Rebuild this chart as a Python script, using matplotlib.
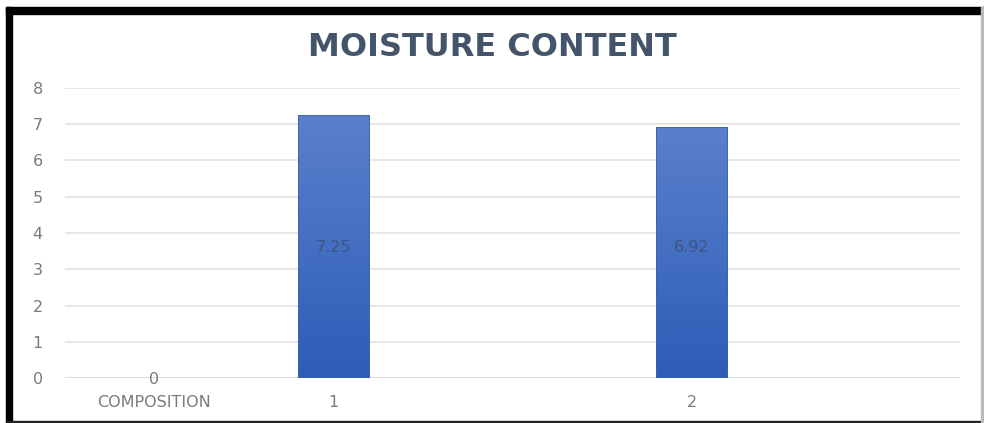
import numpy as np
import matplotlib.pyplot as plt
from matplotlib.patches import Rectangle
from matplotlib.colors import LinearSegmentedColormap

categories = ['COMPOSITION', '1', '', '2', '']
values = [0, 7.25, np.nan, 6.92, np.nan]
value_labels = ['0', '7.25', '', '6.92', '']
yticks = [0, 1, 2, 3, 4, 5, 6, 7, 8]
title = 'MOISTURE CONTENT'

W, H = 984, 423
fig = plt.figure(figsize=(W/100, H/100), dpi=100)
fig.patch.set_facecolor('white')
font = 'DejaVu Sans'

# plot area in pixel coords: x 65..960, y 88..378
ax = fig.add_axes([65/W, 1-378/H, (960-65)/W, (378-88)/H])
for s in ax.spines.values():
    s.set_visible(False)
ax.set_yticks(yticks)
ax.yaxis.grid(True, color='#e3e3e3', lw=1.2)
ax.set_axisbelow(True)
ax.tick_params(length=0, labelsize=11.5, colors='#7a7a7a')
ax.tick_params(axis='x', pad=12)
ax.tick_params(axis='y', pad=16)
ax.set_xticks(range(len(categories)))
ax.set_xticklabels(categories, family=font)
for lab in ax.get_yticklabels():
    lab.set_family(font)
ax.axhline(0, color='#dcdcdc', lw=1.2)

# gradient bars
grad = np.linspace(0, 1, 256).reshape(-1, 1)
cmap = LinearSegmentedColormap.from_list('bl', ['#2d5db7', '#5a80cc'])
bw = 0.4
for i, v in enumerate(values):
    if np.isnan(v) or v == 0:
        continue
    im = ax.imshow(grad, cmap=cmap, aspect='auto', origin='lower',
                   extent=[i-bw/2, i+bw/2, 0, v], zorder=2)
    r = Rectangle((i-bw/2, 0), bw, v, fill=False, ec='#3a62b0', lw=0.6, zorder=3)
    ax.add_patch(r)
    im.set_clip_path(r)
    ax.text(i, 3.6, value_labels[i], ha='center', va='center', fontsize=11.5,
            color='#3b4a66', alpha=0.7, family=font, zorder=4)
ax.text(0, -0.05, value_labels[0], ha='center', va='center', fontsize=11.5,
        color='#7a7a7a', family=font, clip_on=False)
ax.set_xlim(-0.5, len(categories)-0.5)
ax.set_ylim(0, 8)

fig.text(0.5, 1-47/H, title, ha='center', va='center', fontsize=23,
         fontweight='bold', color='#44546a', family=font)

# frame
fig.patches.append(Rectangle((6/W, 1-14/H), (984-6)/W, 7/H, transform=fig.transFigure,
                             color='black', zorder=10))
fig.patches.append(Rectangle((6/W, 0), 6/W, 1-7/H, transform=fig.transFigure,
                             color='black', zorder=10))
fig.patches.append(Rectangle((6/W, 0), (984-6)/W, 2.5/H, transform=fig.transFigure,
                             color='#222222', zorder=10))
fig.patches.append(Rectangle((981/W, 0), 2/W, 1-7/H, transform=fig.transFigure,
                             color='#bbbbbb', zorder=10))

fig.savefig('out.png', dpi=100, facecolor='white')
